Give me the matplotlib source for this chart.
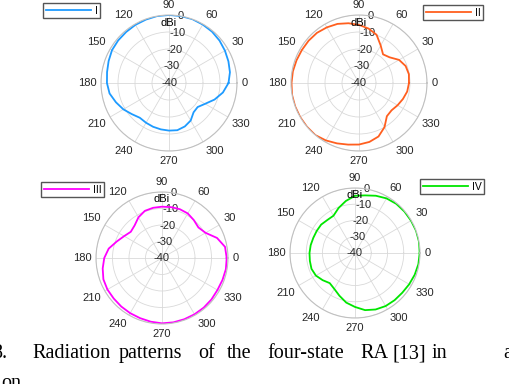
import numpy as np
import matplotlib
matplotlib.use("Agg")
import matplotlib.pyplot as plt

plt.rcParams["font.family"] = ["Liberation Sans", "DejaVu Sans"]

angles_deg = [0, 10, 20, 30, 40, 50, 60, 70, 80, 90, 100, 110, 120, 130, 140, 150, 160, 170,
              180, 190, 200, 210, 220, 230, 240, 250, 260, 270, 280, 290, 300, 310, 320, 330,
              340, 350, 360]

gain_I = [-5.0, -3.6, -2.8, -2.0, -1.2, -0.6, -0.3, 0.0, 0.0, 0.0, 0.0, -0.3, -0.5, -0.8,
          -1.0, -1.3, -2.2, -3.0, -3.5, -4.5, -6.8, -9.0, -11.5, -13.3, -13.0, -12.6, -12.3,
          -12.0, -11.8, -12.8, -14.5, -17.5, -18.0, -15.5, -11.5, -7.8, -5.0]
gain_II = [-10.6, -10.2, -10.8, -12.8, -16.5, -18.0, -14.5, -9.8, -7.5, -5.8, -4.3, -3.0,
           -2.2, -1.5, -1.3, -1.2, -0.9, -0.5, -0.3, 0.0, 0.0, 0.0, 0.0, 0.0, -1.0, -2.2,
           -3.2, -3.8, -4.8, -6.5, -10.0, -14.5, -15.0, -13.8, -12.5, -11.2, -10.6]
gain_III = [-0.8, -1.2, -4.5, -9.5, -11.2, -10.0, -8.8, -8.5, -8.7, -8.9, -9.1, -9.6, -11.5,
            -14.2, -15.3, -13.5, -10.8, -7.2, -5.0, -3.5, -2.2, -1.8, -1.8, -1.6, -1.4, -1.2,
            -0.8, -0.4, -0.4, -0.5, -0.6, -0.7, -0.9, -1.2, -1.0, -0.7, -0.8]
gain_IV = [-0.2, 0.0, 0.0, -0.2, -0.3, -0.5, -1.2, -2.5, -4.0, -4.8, -7.5, -10.5, -13.5,
           -13.5, -12.8, -12.8, -12.7, -12.3, -12.0, -11.8, -11.5, -12.2, -14.0, -15.8,
           -14.5, -12.0, -9.0, -6.8, -4.3, -3.0, -2.3, -2.1, -2.0, -1.5, -0.9, -0.4, -0.2]

series_labels = ["I", "II", "III", "IV"]
series_colors = ["#1e9bff", "#ff5f1f", "#ff00ff", "#00e600"]
theta_ticks = [0, 30, 60, 90, 120, 150, 180, 210, 240, 270, 300, 330]
r_ticks = [-40, -30, -20, -10, 0]
r_label = "dBi"

W, H = 510, 384
fig = plt.figure(figsize=(W / 100, H / 100), dpi=100)

# (center x, center y, radius) in pixels, legend upper-left (x, y) in pixels
layouts = [
    ((169, 83, 68), (43, 3)),
    ((359, 83, 68), (423, 5)),
    ((162, 258, 66), (41, 182)),
    ((355, 253, 65), (420, 179)),
]
all_gains = [gain_I, gain_II, gain_III, gain_IV]

for gains, lab, col, ((cx, cy, rad), (lx, ly)) in zip(all_gains, series_labels, series_colors, layouts):
    ax = fig.add_axes([(cx - rad) / W, 1 - (cy + rad) / H, 2 * rad / W, 2 * rad / H],
                      projection="polar")
    th = np.deg2rad(angles_deg)
    line, = ax.plot(th, gains, color=col, lw=1.3, label=lab)
    ax.set_ylim(-40, 0)
    ax.set_xticks(np.deg2rad(theta_ticks))
    ax.set_xticklabels([str(t) for t in theta_ticks])
    ax.set_yticks(r_ticks)
    ax.set_yticklabels([str(t) for t in r_ticks])
    ax.set_rlabel_position(80)
    ax.tick_params(axis="x", labelsize=8, colors="#262626", size=0, pad=-3.6)
    ax.tick_params(axis="y", labelsize=8, colors="#262626", size=0, pad=0)
    for t, a in zip(ax.get_xticklabels(), theta_ticks):
        c, s = np.cos(np.deg2rad(a)), np.sin(np.deg2rad(a))
        t.set_ha("left" if c > 0.01 else ("right" if c < -0.01 else "center"))
        t.set_va("bottom" if s > 0.01 else ("top" if s < -0.01 else "center"))
    for t in ax.get_yticklabels():
        t.set_ha("center")
        t.set_va("center")
    ax.grid(True, color="#d9d9d9", lw=0.6)
    ax.spines["polar"].set_color("#c0c0c0")
    ax.spines["polar"].set_linewidth(0.8)
    ax.text(np.deg2rad(90), -4.5, r_label, ha="center", va="center", fontsize=8,
            color="black")
    fig.legend(handles=[line], labels=[lab], loc="upper left",
               bbox_to_anchor=(lx / W, 1 - ly / H), bbox_transform=fig.transFigure,
               borderaxespad=0, fancybox=False, framealpha=1, edgecolor="#555555",
               fontsize=7.5, handlelength=4.4, handletextpad=0.3, borderpad=0.25)

# caption (justified line, cut at edges)
cap_font = dict(family="Liberation Serif", fontsize=14.5, color="black", va="baseline",
                ha="left")
words = ["8.", "Radiation", "patterns", "of", "the", "four-state", "RA", "[13]", "in", "a"]
word_x = [-8, 32, 119, 198, 227, 267, 360, 393, 432, 503]
for w, x in zip(words, word_x):
    fig.text(x / W, 1 - 358 / H, w, **cap_font)
fig.text(1 / W, 1 - 388 / H, "on", **cap_font)

fig.savefig("out.png", dpi=100)
